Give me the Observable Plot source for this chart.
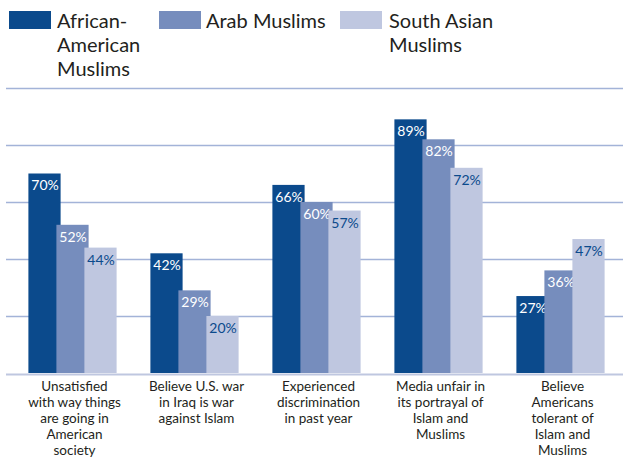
<!DOCTYPE html>
<html>
<head>
<meta charset="utf-8">
<script src="https://cdn.jsdelivr.net/npm/d3@7"></script>
<script src="https://cdn.jsdelivr.net/npm/@observablehq/plot@0.6"></script>
<style>
  html, body { margin: 0; padding: 0; background: #fff; }
  body { width: 623px; height: 458px; overflow: hidden; font-family: Lato, "Open Sans", sans-serif; }
  #legend { position: relative; height: 80px; width: 623px; }
  .sw { position: absolute; top: 11px; width: 42px; height: 18px; }
  .lt { position: absolute; top: 8px; font-size: 20px; line-height: 24px; color: #231f20; }
  svg { display: block; }
</style>
</head>
<body>
<div id="legend"></div>
<div id="chart"></div>
<script>
const categories = ["Unsatisfied", "War on Islam", "Discrimination", "Media unfair", "Americans tolerant"];
const tickLabels = [
  "Unsatisfied\nwith way things\nare going in\nAmerican\nsociety",
  "Believe U.S. war\nin Iraq is war\nagainst Islam",
  "Experienced\ndiscrimination\nin past year",
  "Media unfair in\nits portrayal of\nIslam and\nMuslims",
  "Believe\nAmericans\ntolerant of\nIslam and\nMuslims"
];
const seriesNames = ["African-\nAmerican\nMuslims", "Arab Muslims", "South Asian\nMuslims"];
const seriesColors = ["#0b4a8c", "#768dbd", "#bfc7e0"];
const labelColors = ["#ffffff", "#ffffff", "#0b4a8c"];
const africanAmerican = [70, 42, 66, 89, 27];
const arab = [52, 29, 60, 82, 36];
const southAsian = [44, 20, 57, 72, 47];
const seriesValues = [africanAmerican, arab, southAsian];
const yTicks = [20, 40, 60, 80, 100];

// legend
const legend = document.getElementById("legend");
const swX = [9, 159, 340];
const txX = [57, 206, 389];
seriesNames.forEach((n, i) => {
  const s = document.createElement("div");
  s.className = "sw"; s.style.left = swX[i] + "px"; s.style.background = seriesColors[i];
  legend.appendChild(s);
  const t = document.createElement("div");
  t.className = "lt"; t.style.left = txX[i] + "px";
  t.innerHTML = n.split("\n").join("<br>");
  legend.appendChild(t);
});

const offsets = [-28, 0, 28];
const marks = [
  Plot.ruleY(yTicks, {stroke: "#a3b3d8", strokeWidth: 1.5}),
  Plot.ruleY([0], {stroke: "#bfc7e0", strokeWidth: 2, dy: 1})
];
seriesValues.forEach((vals, i) => {
  const data = categories.map((c, j) => ({cat: c, v: vals[j]}));
  marks.push(Plot.barY(data, {x: "cat", y: "v", fill: seriesColors[i], dx: offsets[i] - 1.5, insetLeft: 44.9, insetRight: 44.9}));
  marks.push(Plot.text(data, {x: "cat", y: "v", text: d => d.v + "%", dx: offsets[i] - 1.5, dy: 12, fill: labelColors[i], fontSize: 14}));
});
marks.push(Plot.axisX({
  tickSize: 0, tickPadding: 6, label: null, tickFormat: (d) => tickLabels[categories.indexOf(d)],
  fontSize: 13.5, lineHeight: 1.18, fill: "#231f20"
}));

const chart = Plot.plot({
  width: 623,
  height: 378,
  marginTop: 8,
  marginBottom: 85,
  marginLeft: 6,
  marginRight: 0,
  x: {domain: categories, range: [11, 625], padding: 0, axis: null},
  y: {domain: [0, 100], axis: null},
  style: {fontFamily: "Lato, sans-serif", background: "#fff"},
  marks
});
document.getElementById("chart").appendChild(chart);
</script>
</body>
</html>
